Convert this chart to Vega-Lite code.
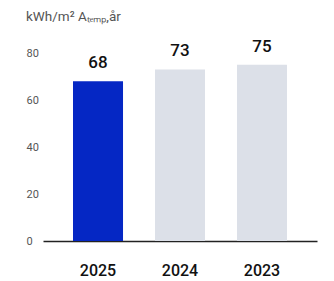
{
  "$schema": "https://vega.github.io/schema/vega-lite/v6.json",
  "width": 274,
  "height": 188,
  "padding": {"left": 26, "top": 10, "right": 17, "bottom": 0},
  "autosize": {"type": "pad"},
  "background": "white",
  "title": {
    "text": "kWh/m² Aₜₑₘₚ,år",
    "anchor": "start",
    "frame": "bounds",
    "font": "Roboto",
    "fontSize": 13.5,
    "fontWeight": "normal",
    "color": "#555555",
    "offset": 14
  },
  "data": {
    "values": [
      {"year": "2025", "value": 68, "current": "yes"},
      {"year": "2024", "value": 73, "current": "no"},
      {"year": "2023", "value": 75, "current": "no"}
    ]
  },
  "config": {"view": {"stroke": null}},
  "encoding": {
    "x": {
      "field": "year",
      "type": "nominal",
      "sort": null,
      "scale": {"paddingInner": 0.39, "paddingOuter": 0.366},
      "axis": {
        "title": null,
        "labelAngle": 0,
        "ticks": false,
        "domainColor": "#222222",
        "domainWidth": 1.5,
        "labelFont": "Roboto",
        "labelFontSize": 16,
        "labelFontWeight": 500,
        "labelColor": "#111111",
        "labelPadding": 21
      }
    },
    "y": {
      "field": "value",
      "type": "quantitative",
      "scale": {"domain": [0, 80]},
      "axis": {
        "title": null,
        "values": [0, 20, 40, 60, 80],
        "grid": false,
        "domain": false,
        "ticks": false,
        "tickSize": 0,
        "labelAlign": "left",
        "labelPadding": 17,
        "labelFont": "Roboto",
        "labelFontSize": 11,
        "labelColor": "#555555"
      }
    }
  },
  "layer": [
    {
      "mark": {"type": "bar"},
      "encoding": {
        "color": {
          "field": "current",
          "type": "nominal",
          "scale": {"domain": ["yes", "no"], "range": ["#0527C4", "#DCE0E8"]},
          "legend": null
        }
      }
    },
    {
      "mark": {"type": "text", "baseline": "bottom", "dy": -9, "font": "Roboto", "fontSize": 17, "fontWeight": 500, "color": "#111111"},
      "encoding": {"text": {"field": "value", "type": "quantitative"}}
    }
  ]
}
